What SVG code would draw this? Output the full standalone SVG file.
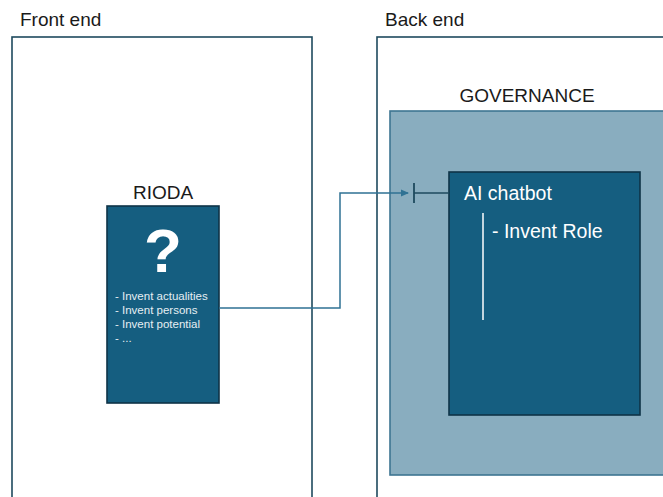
<svg xmlns="http://www.w3.org/2000/svg" width="663" height="497" viewBox="0 0 663 497">
<style>
.lbl{font-family:"Liberation Sans",Arial,sans-serif;font-size:19px;fill:#1a1a1a}
.wt{font-family:"Liberation Sans",Arial,sans-serif;fill:#ffffff}
.sm{font-family:"Liberation Sans",Arial,sans-serif;font-size:11.5px;fill:#e6eef3}
.frame{fill:#ffffff;stroke:#1e4a5e;stroke-width:1.6}
</style>
<defs>
<marker id="arr" markerWidth="8" markerHeight="8" refX="7" refY="4" orient="auto" markerUnits="userSpaceOnUse">
<path d="M0,0.5 L8,4 L0,7.5 Z" fill="#2f7294"/>
</marker>
</defs>
<rect width="663" height="497" fill="#ffffff"/>
<g id="frontend">
<rect class="frame" x="12" y="37" width="300" height="470"/>
<text class="lbl" x="20" y="26">Front end</text>
</g>
<g id="backend">
<rect class="frame" x="377" y="37" width="300" height="470"/>
<text class="lbl" x="385" y="26">Back end</text>
</g>
<g id="governance">
<rect x="390" y="111" width="290" height="364" fill="#89adbf" stroke="#3e7592" stroke-width="1.6"/>
<text class="lbl" x="527" y="102" text-anchor="middle">GOVERNANCE</text>
</g>
<g id="rioda">
<text class="lbl" x="163" y="199" text-anchor="middle">RIODA</text>
<rect x="107" y="206" width="112" height="197" fill="#155e80" stroke="#0e3347" stroke-width="1.6"/>
<text class="wt" x="163" y="272" text-anchor="middle" font-size="62" font-weight="bold">?</text>
<text class="sm" x="115" y="300">- Invent actualities</text>
<text class="sm" x="115" y="314">- Invent persons</text>
<text class="sm" x="115" y="328">- Invent potential</text>
<text class="sm" x="115" y="342">- ...</text>
</g>
<g id="aichatbot">
<rect x="449" y="172" width="191" height="243" fill="#155e80" stroke="#0e3347" stroke-width="1.6"/>
<text class="wt" x="464" y="200" font-size="19.5">AI chatbot</text>
<line x1="483" y1="213" x2="483" y2="320" stroke="#ffffff" stroke-width="1.5"/>
<text class="wt" x="492" y="238" font-size="19.5">- Invent Role</text>
</g>
<g id="connectors">
<polyline points="219,308 340,308 340,193 408,193" fill="none" stroke="#2f7294" stroke-width="1.5" marker-end="url(#arr)"/>
<line x1="414" y1="193" x2="449" y2="193" stroke="#1e4a5e" stroke-width="1.6"/>
<line x1="414" y1="183" x2="414" y2="203" stroke="#1e4a5e" stroke-width="1.8"/>
</g>
</svg>
